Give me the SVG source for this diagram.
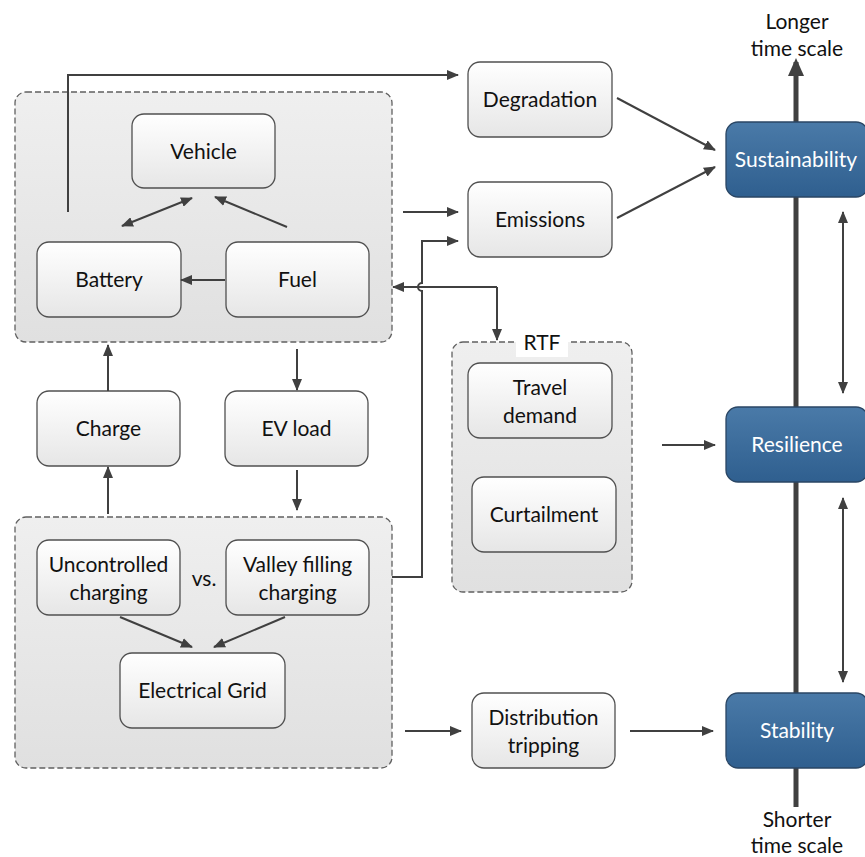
<svg xmlns="http://www.w3.org/2000/svg" width="865" height="857" viewBox="0 0 865 857">
<defs>
<linearGradient id="gNode" x1="0" y1="0" x2="0" y2="1"><stop offset="0" stop-color="#ffffff"/><stop offset="1" stop-color="#e6e6e6"/></linearGradient>
<linearGradient id="gCont" x1="0" y1="0" x2="0" y2="1"><stop offset="0" stop-color="#efefef"/><stop offset="1" stop-color="#e0e0e0"/></linearGradient>
<linearGradient id="gBlue" x1="0" y1="0" x2="0" y2="1"><stop offset="0" stop-color="#4a7aa8"/><stop offset="1" stop-color="#2f5f8f"/></linearGradient>
<marker id="ah" viewBox="0 0 12 10" refX="11" refY="5" markerWidth="12" markerHeight="10" markerUnits="userSpaceOnUse" orient="auto-start-reverse"><path d="M0 0 L12 5 L0 10 Z" fill="#404040"/></marker>
<marker id="axh" viewBox="0 0 18 16" refX="14" refY="8" markerWidth="18" markerHeight="16" markerUnits="userSpaceOnUse" orient="auto"><path d="M0 0 L18 8 L0 16 Z" fill="#404040"/></marker>
</defs>
<style>
text{font-family:Lato,"Liberation Sans",sans-serif;font-size:21px;fill:#111;text-anchor:middle;dominant-baseline:central}
.node{fill:url(#gNode);stroke:#505050;stroke-width:1.3}
.cont{fill:url(#gCont);stroke:#606060;stroke-width:1.3;stroke-dasharray:6 3}
.blue{fill:url(#gBlue);stroke:#2a4664;stroke-width:1.3}
.wt{fill:#fff}
.c{fill:none;stroke:#404040;stroke-width:2}
.a{marker-end:url(#ah)}
.b{marker-start:url(#ah);marker-end:url(#ah)}
</style>
<rect width="865" height="857" fill="#fff"/>

<!-- axis -->
<g id="axis">
<line x1="796" y1="807" x2="796" y2="62" stroke="#404040" stroke-width="5" marker-end="url(#axh)"/>
<text x="797" y="20">Longer</text>
<text x="797" y="47">time scale</text>
<text x="797" y="818">Shorter</text>
<text x="797" y="844">time scale</text>
</g>

<!-- containers -->
<g id="vehicle-group"><rect class="cont" x="15" y="92" width="377" height="250" rx="11"/></g>
<g id="grid-group"><rect class="cont" x="15" y="517" width="377" height="251" rx="11"/></g>
<g id="rtf-group"><rect class="cont" x="452" y="342" width="180" height="250" rx="11"/>
<rect x="516" y="330" width="52" height="27" fill="#fff"/>
<text x="542" y="341">RTF</text></g>

<!-- nodes -->
<g id="vehicle"><rect class="node" x="132" y="114" width="143" height="74" rx="12"/><text x="203.5" y="150">Vehicle</text></g>
<g id="battery"><rect class="node" x="37" y="242" width="144" height="75" rx="12"/><text x="109" y="278.5">Battery</text></g>
<g id="fuel"><rect class="node" x="226" y="242" width="143" height="75" rx="12"/><text x="297.5" y="278.5">Fuel</text></g>
<g id="charge"><rect class="node" x="37" y="391" width="143" height="75" rx="12"/><text x="108.5" y="427.5">Charge</text></g>
<g id="ev-load"><rect class="node" x="225" y="391" width="143" height="75" rx="12"/><text x="296.5" y="427.5">EV load</text></g>
<g id="uncontrolled"><rect class="node" x="37" y="540" width="143" height="75" rx="12"/><text x="108.5" y="563">Uncontrolled</text><text x="108.5" y="591">charging</text></g>
<g id="vs"><text x="204" y="577">vs.</text></g>
<g id="valley"><rect class="node" x="226" y="540" width="143" height="75" rx="12"/><text x="297.5" y="563">Valley filling</text><text x="297.5" y="591">charging</text></g>
<g id="electrical-grid"><rect class="node" x="120" y="653" width="165" height="75" rx="12"/><text x="202.5" y="689.5">Electrical Grid</text></g>
<g id="degradation"><rect class="node" x="468" y="62" width="144" height="75" rx="12"/><text x="540" y="98.5">Degradation</text></g>
<g id="emissions"><rect class="node" x="468" y="182" width="144" height="75" rx="12"/><text x="540" y="218.5">Emissions</text></g>
<g id="travel-demand"><rect class="node" x="468" y="363" width="144" height="75" rx="12"/><text x="540" y="386">Travel</text><text x="540" y="414">demand</text></g>
<g id="curtailment"><rect class="node" x="472" y="477" width="144" height="75" rx="12"/><text x="544" y="513.5">Curtailment</text></g>
<g id="distribution-tripping"><rect class="node" x="472" y="693" width="143" height="75" rx="12"/><text x="543.5" y="716">Distribution</text><text x="543.5" y="744">tripping</text></g>
<g id="sustainability"><rect class="blue" x="726" y="122" width="142" height="75" rx="12"/><text class="wt" x="796" y="158.5">Sustainability</text></g>
<g id="resilience"><rect class="blue" x="726" y="407" width="142" height="75" rx="12"/><text class="wt" x="797" y="443.5">Resilience</text></g>
<g id="stability"><rect class="blue" x="726" y="693" width="142" height="75" rx="12"/><text class="wt" x="797" y="729.5">Stability</text></g>

<!-- connectors -->
<g id="connectors">
<path class="c a" d="M68 212 V75 H458"/>
<line class="c b" x1="122" y1="226" x2="192" y2="198"/>
<line class="c a" x1="287" y1="227" x2="215" y2="197"/>
<line class="c a" x1="225" y1="280" x2="181" y2="280"/>
<line class="c a" x1="108" y1="391" x2="108" y2="345"/>
<line class="c a" x1="108" y1="514" x2="108" y2="467"/>
<line class="c a" x1="297" y1="349" x2="297" y2="390"/>
<line class="c a" x1="297" y1="470" x2="297" y2="510"/>
<line class="c a" x1="120" y1="617" x2="192" y2="647"/>
<line class="c a" x1="285" y1="617" x2="214" y2="647"/>
<line class="c a" x1="403" y1="212" x2="458" y2="212"/>
<path class="c a" d="M497 287 H393"/>
<path class="c a" d="M497 287 V340"/>
<path class="c a" d="M392 577 H422 V291 A4 4 0 0 1 422 283 V241 H458"/>
<line class="c a" x1="617" y1="98" x2="715" y2="150"/>
<line class="c a" x1="617" y1="218" x2="715" y2="167"/>
<line class="c a" x1="662" y1="445" x2="715" y2="445"/>
<line class="c a" x1="405" y1="731" x2="461" y2="731"/>
<line class="c a" x1="630" y1="731" x2="713" y2="731"/>
<line class="c b" x1="843" y1="212" x2="843" y2="393"/>
<line class="c b" x1="843" y1="498" x2="843" y2="682"/>
</g>
</svg>
